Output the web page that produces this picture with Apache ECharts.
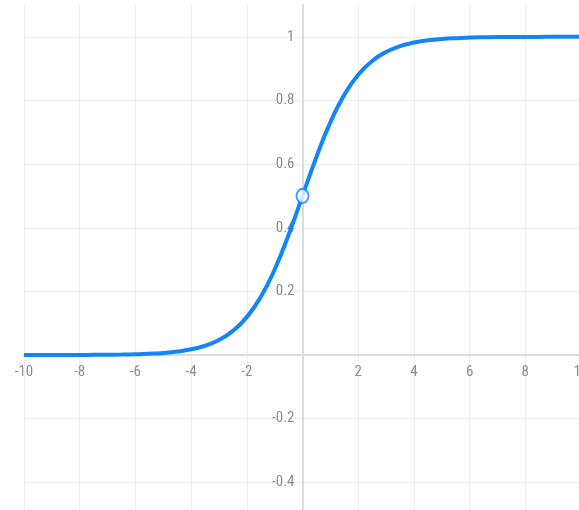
<!DOCTYPE html>
<html>
<head>
<meta charset="utf-8">
<script src="https://cdn.jsdelivr.net/npm/echarts@6/dist/echarts.min.js"></script>
<style>
html,body{margin:0;padding:0;background:#fff;}
#chart{width:579px;height:510px;}
</style>
</head>
<body>
<div id="chart"></div>
<script>
// x positions of the curve samples
var xValues = [-10,-9.5,-9,-8.5,-8,-7.5,-7,-6.5,-6,-5.5,-5,-4.5,-4,-3.5,-3,-2.5,-2,-1.5,-1,-0.5,0,0.5,1,1.5,2,2.5,3,3.5,4,4.5,5,5.5,6,6.5,7,7.5,8,8.5,9,9.5,10];
// curve values
var yValues = [0.0000,0.0001,0.0001,0.0002,0.0003,0.0006,0.0009,0.0015,0.0025,0.0041,0.0067,0.0110,0.0180,0.0293,0.0474,0.0759,0.1192,0.1824,0.2689,0.3775,0.5000,0.6225,0.7311,0.8176,0.8808,0.9241,0.9526,0.9707,0.9820,0.9890,0.9933,0.9959,0.9975,0.9985,0.9991,0.9994,0.9997,0.9998,0.9999,0.9999,1.0000];
// highlighted point
var pointX = [0];
var pointY = [0.5];
// tick settings
var xTicks = {min: -10, max: 10, step: 2};
var yTicks = {min: -0.6, max: 1.1, step: 0.2};

var curveData = xValues.map(function (x, i) { return [x, yValues[i]]; });
var pointData = pointX.map(function (x, i) { return [x, pointY[i]]; });

var W = 579, H = 510;
var grid = {left: 24, right: -2, top: 5, bottom: -36};
var gridW = W - grid.left - grid.right;
var gridH = H - grid.top - grid.bottom;
// offsets so the axes (with their labels) sit at the zero crossings
var xAxisOffset = -(gridH * (0 - yTicks.min) / (yTicks.max - yTicks.min));
var yAxisOffset = -(gridW * (0 - xTicks.min) / (xTicks.max - xTicks.min));

var labelFont = {color: '#8c8c8c', fontSize: 15, fontFamily: '"Liberation Sans Narrow", "Roboto Condensed", Arial, sans-serif'};
var blue = '#1285f7';

var chart = echarts.init(document.getElementById('chart'), null, {renderer: 'canvas'});
chart.setOption({
  animation: false,
  backgroundColor: '#fff',
  grid: {left: grid.left, right: grid.right, top: grid.top, bottom: grid.bottom, containLabel: false, outerBoundsMode: 'none'},
  xAxis: {
    type: 'value',
    position: 'bottom',
    offset: xAxisOffset,
    min: xTicks.min, max: xTicks.max, interval: xTicks.step,
    axisLine: {onZero: false, lineStyle: {color: '#dcdcdc', width: 2}},
    axisTick: {show: false},
    axisLabel: Object.assign({margin: 10, showMinLabel: true, showMaxLabel: true, hideOverlap: false,
      formatter: function (v) { return v === 0 ? '' : String(v); }}, labelFont),
    splitLine: {show: true, lineStyle: {color: '#efefef', width: 1}}
  },
  yAxis: {
    type: 'value',
    position: 'left',
    offset: yAxisOffset,
    min: yTicks.min, max: yTicks.max, interval: yTicks.step,
    axisLine: {onZero: false, lineStyle: {color: '#dcdcdc', width: 2}},
    axisTick: {show: false},
    axisLabel: Object.assign({margin: 8, showMaxLabel: false,
      formatter: function (v) { return Math.abs(v) < 1e-9 ? '' : String(Math.round(v * 10) / 10); }}, labelFont),
    splitLine: {show: true, showMaxLine: false, lineStyle: {color: '#efefef', width: 1}}
  },
  series: [
    {
      type: 'line',
      data: curveData,
      smooth: true,
      showSymbol: false,
      symbol: 'none',
      lineStyle: {color: blue, width: 4},
      z: 2
    },
    {
      type: 'scatter',
      data: pointData,
      symbol: 'circle',
      symbolSize: [12, 14],
      itemStyle: {color: '#fff', borderColor: blue, borderWidth: 2},
      z: 3
    }
  ]
});
</script>
</body>
</html>
